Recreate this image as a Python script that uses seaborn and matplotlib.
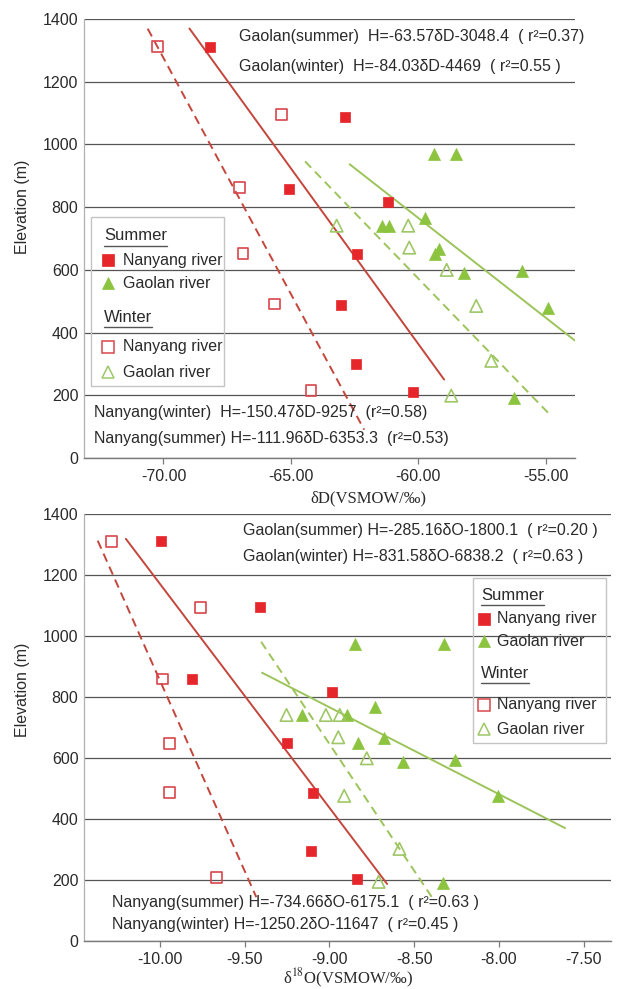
import numpy as np
import pandas as pd
import matplotlib
matplotlib.use("Agg")
import matplotlib.pyplot as plt
import seaborn as sns
from matplotlib.lines import Line2D
from matplotlib.patches import Rectangle

# ---------------- data: top panel (deltaD) ----------------
dD_ny_sum_x = [-68.18, -62.88, -65.06, -61.17, -62.40, -63.03, -62.46, -60.22]
dD_ny_sum_h = [1310, 1088, 858, 817, 649, 488, 300, 211]
dD_ny_win_x = [-70.23, -65.38, -67.02, -66.88, -65.63, -64.21]
dD_ny_win_h = [1312, 1096, 863, 653, 491, 216]
dD_gl_sum_x = [-59.37, -58.52, -59.73, -61.40, -61.15, -59.18, -59.34, -58.21, -55.91, -54.89, -56.22]
dD_gl_sum_h = [968, 968, 764, 741, 741, 665, 649, 589, 597, 479, 190]
dD_gl_win_x = [-63.20, -60.39, -60.35, -58.88, -57.72, -57.13, -58.70]
dD_gl_win_h = [741, 741, 671, 600, 485, 310, 199]

# regression lines H = a*x + b, drawn over [x0, x1]
dD_lines = {
    "ny_sum": (-111.96, -6353.3, -68.98, -58.98),
    "ny_win": (-150.47, -9257.0, -70.62, -62.12),
    "gl_sum": (-63.57, -3048.4, -62.69, -53.82),
    "gl_win": (-84.03, -4469.0, -64.44, -54.86),
}
dD_ticks = [-70.0, -65.0, -60.0, -55.0]

# ---------------- data: bottom panel (delta18O) ----------------
dO_ny_sum_x = [-9.994, -9.408, -9.81, -8.985, -9.25, -9.099, -9.11, -8.839]
dO_ny_sum_h = [1311, 1094, 859, 817, 648, 484, 296, 203]
dO_ny_win_x = [-10.285, -9.762, -9.985, -9.943, -9.943, -9.664]
dO_ny_win_h = [1311, 1094, 859, 648, 488, 209]
dO_gl_sum_x = [-8.85, -8.324, -8.729, -9.164, -8.896, -8.832, -8.681, -8.565, -8.262, -8.006, -8.329]
dO_gl_sum_h = [973, 973, 768, 741, 741, 650, 665, 586, 593, 475, 189]
dO_gl_win_x = [-9.253, -9.021, -8.939, -8.948, -8.78, -8.913, -8.587, -8.71]
dO_gl_win_h = [741, 741, 741, 668, 599, 476, 302, 194]

dO_lines = {
    "ny_sum": (-734.66, -6175.1, -10.20, -8.66),
    "ny_win": (-1250.2, -11647.0, -10.366, -9.431),
    "gl_sum": (-285.16, -1800.1, -9.397, -7.611),
    "gl_win": (-831.58, -6838.2, -9.403, -8.392),
}
dO_ticks = [-10.0, -9.5, -9.0, -8.5, -8.0, -7.5]

h_ticks = [0, 200, 400, 600, 800, 1000, 1200, 1400]

# ---------------- styling ----------------
sns.set_theme(style="white")
plt.rcParams["font.family"] = ["Liberation Sans", "DejaVu Sans"]
plt.rcParams["axes.unicode_minus"] = False
plt.rcParams["mathtext.fontset"] = "stix"

RED = "#e5262b"
RED_LINE = "#c4453b"
RED_OPEN = "#d9464c"
GREEN = "#8cc43f"
GREEN_LINE = "#9cc45a"
GREEN_OPEN = "#9fc766"
TXT = "#2a2a2a"

W, H = 617, 989
fig = plt.figure(figsize=(W / 100, H / 100), dpi=100)


def fx(px):
    return px / W


def fy(py):
    return 1 - py / H


def make_axes(left, right, top, bottom):
    return fig.add_axes([fx(left), fy(bottom), fx(right) - fx(left), (bottom - top) / H])


def style_axes(ax, xlim, ticks, fmt):
    ax.set_xlim(*xlim)
    ax.set_ylim(0, 1400)
    ax.set_yticks(h_ticks)
    ax.set_yticklabels([str(t) for t in h_ticks])
    ax.set_xticks(ticks)
    ax.set_xticklabels([fmt.format(t) for t in ticks])
    ax.grid(axis="y", color="#555555", linewidth=0.9)
    ax.grid(axis="x", visible=False)
    ax.set_axisbelow(True)
    for s in ["top", "right"]:
        ax.spines[s].set_visible(False)
    ax.spines["left"].set_color("#b0b0b0")
    ax.spines["left"].set_linewidth(0.9)
    ax.spines["bottom"].set_color("#7a7a7a")
    ax.spines["bottom"].set_linewidth(1.0)
    ax.tick_params(axis="y", length=0, pad=4, labelsize=11.5, labelcolor=TXT)
    ax.tick_params(axis="x", length=4, width=0.9, color="#7a7a7a", direction="out",
                   pad=4, labelsize=11.5, labelcolor=TXT, bottom=True)
    ax.set_xlabel("")
    ax.set_ylabel("")
    ax.patch.set_alpha(0)


def draw_panel(ax, series, lines):
    for x, h, marker, col, filled, size in series:
        if filled:
            sns.scatterplot(x=x, y=h, ax=ax, marker=marker, color=col,
                            edgecolor=col, linewidth=0.5, s=size, zorder=4)
        else:
            sns.scatterplot(x=x, y=h, ax=ax, marker=marker, color=col,
                            facecolor="none", edgecolor=col, linewidth=1.2, s=size, zorder=4)
    styles = {"ny_sum": (RED_LINE, "-"), "ny_win": (RED_LINE, "--"),
              "gl_sum": (GREEN_LINE, "-"), "gl_win": (GREEN_LINE, "--")}
    for key, (a, b, x0, x1) in lines.items():
        xs = np.array([x0, x1])
        ys = a * xs + b
        col, ls = styles[key]
        l = sns.lineplot(x=xs, y=ys, ax=ax, color=col, linewidth=1.4, zorder=3)
        l.lines[-1].set_linestyle(ls)
        if ls == "--":
            l.lines[-1].set_dashes((4.5, 2.8))


# ---------------- top panel ----------------
ax1 = make_axes(84, 575.3, 19, 458)
draw_panel(ax1, [
    (dD_ny_sum_x, dD_ny_sum_h, "s", RED, True, 60),
    (dD_ny_win_x, dD_ny_win_h, "s", RED_OPEN, False, 60),
    (dD_gl_sum_x, dD_gl_sum_h, "^", GREEN, True, 75),
    (dD_gl_win_x, dD_gl_win_h, "^", GREEN_OPEN, False, 80),
], dD_lines)
style_axes(ax1, (-73.12, -53.83), dD_ticks, "{:.2f}")

# ---------------- bottom panel ----------------
ax2 = make_axes(84, 611, 514, 941)
draw_panel(ax2, [
    (dO_ny_sum_x, dO_ny_sum_h, "s", RED, True, 60),
    (dO_ny_win_x, dO_ny_win_h, "s", RED_OPEN, False, 60),
    (dO_gl_sum_x, dO_gl_sum_h, "^", GREEN, True, 75),
    (dO_gl_win_x, dO_gl_win_h, "^", GREEN_OPEN, False, 80),
], dO_lines)
style_axes(ax2, (-10.447, -7.34), dO_ticks, "{:.2f}")

# ---------------- annotations ----------------
ann_kw = dict(fontsize=11.5, color=TXT, va="center", ha="left")
fig.text(fx(239), fy(37), "Gaolan(summer)  H=-63.57δD-3048.4  ( r²=0.37)", **ann_kw)
fig.text(fx(239), fy(67), "Gaolan(winter)  H=-84.03δD-4469  ( r²=0.55 )", **ann_kw)
fig.text(fx(94), fy(413), "Nanyang(winter)  H=-150.47δD-9257  (r²=0.58)", **ann_kw)
fig.text(fx(94), fy(438), "Nanyang(summer) H=-111.96δD-6353.3  (r²=0.53)", **ann_kw)

fig.text(fx(243), fy(530), "Gaolan(summer) H=-285.16δO-1800.1  ( r²=0.20 )", **ann_kw)
fig.text(fx(243), fy(556), "Gaolan(winter) H=-831.58δO-6838.2  ( r²=0.63 )", **ann_kw)
fig.text(fx(112), fy(903), "Nanyang(summer) H=-734.66δO-6175.1  ( r²=0.63 )", **ann_kw)
fig.text(fx(112), fy(925), "Nanyang(winter) H=-1250.2δO-11647  ( r²=0.45 )", **ann_kw)

# axis labels
fig.text(fx(23), fy(207), "Elevation (m)", rotation=90, fontsize=11.5, color=TXT,
         ha="center", va="center")
fig.text(fx(23), fy(690), "Elevation (m)", rotation=90, fontsize=11.5, color=TXT,
         ha="center", va="center")
fig.text(fx(368), fy(498), "δD(VSMOW/‰)", fontsize=12, color=TXT, ha="center", va="center",
         family=["Liberation Serif", "DejaVu Serif"])
fig.text(fx(348), fy(978), r"δ$^{18}$O(VSMOW/‰)", fontsize=12, color=TXT, ha="center",
         va="center", family=["Liberation Serif", "DejaVu Serif"])


# ---------------- legends ----------------
def draw_legend(box, hx, mx, tx, rows):
    x0, y0, x1, y1 = box
    fig.add_artist(Rectangle((fx(x0), fy(y1)), fx(x1) - fx(x0), (y1 - y0) / H,
                             transform=fig.transFigure, fill=False,
                             edgecolor="#c4c4c4", linewidth=1.0))
    headers = []
    for kind, y, label, marker, col, filled in rows:
        if kind == "h":
            t = fig.text(fx(hx), fy(y), label, fontsize=12, color=TXT, ha="left", va="center")
            headers.append((t, y))
        else:
            fig.add_artist(Line2D([fx(mx)], [fy(y)], transform=fig.transFigure,
                                  marker=marker, linestyle="none", markersize=8 if marker == "s" else 9,
                                  markerfacecolor=col if filled else "none",
                                  markeredgecolor=col, markeredgewidth=1.1 if not filled else 0.5))
            fig.text(fx(tx), fy(y), label, fontsize=11.5, color=TXT, ha="left", va="center")
    fig.canvas.draw()
    r = fig.canvas.get_renderer()
    for t, y in headers:
        bb = t.get_window_extent(r)
        yy = bb.y0 - 2
        fig.add_artist(Line2D([bb.x0 / (W), bb.x1 / (W)], [yy / H, yy / H],
                              transform=fig.transFigure, color="#555555", linewidth=1.0))


leg_rows_top = [
    ("h", 236, "Summer", None, None, None),
    ("m", 260, "Nanyang river", "s", RED, True),
    ("m", 283, "Gaolan river", "^", GREEN, True),
    ("h", 317, "Winter", None, None, None),
    ("m", 347, "Nanyang river", "s", RED_OPEN, False),
    ("m", 372, "Gaolan river", "^", GREEN_OPEN, False),
]
draw_legend((91, 217, 224, 386), 104, 108, 123, leg_rows_top)

leg_rows_bot = [
    ("h", 595, "Summer", None, None, None),
    ("m", 619, "Nanyang river", "s", RED, True),
    ("m", 641, "Gaolan river", "^", GREEN, True),
    ("h", 673, "Winter", None, None, None),
    ("m", 705, "Nanyang river", "s", RED_OPEN, False),
    ("m", 729, "Gaolan river", "^", GREEN_OPEN, False),
]
draw_legend((473, 578, 606, 743), 481, 484, 497, leg_rows_bot)

fig.savefig("out.png", dpi=100)
